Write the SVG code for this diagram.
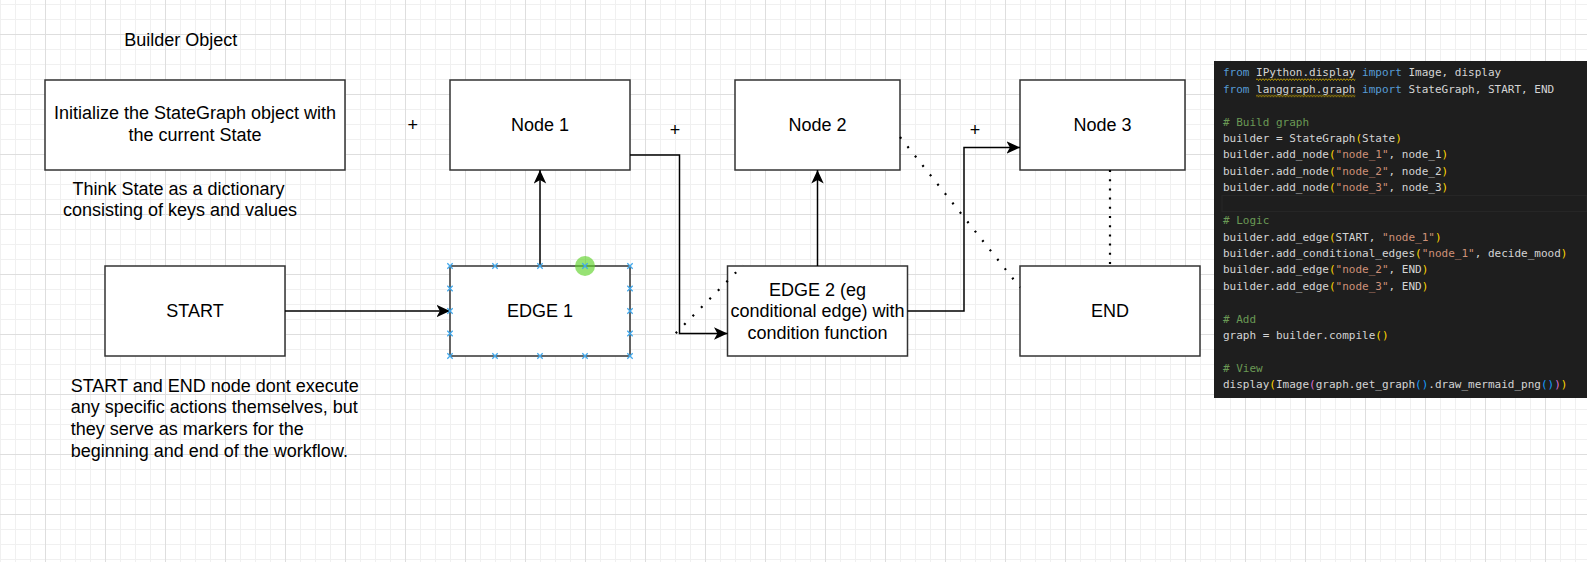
<svg xmlns="http://www.w3.org/2000/svg" width="1587" height="562" viewBox="0 0 1587 562">
<style>
.box{fill:#ffffff;stroke:#333333;stroke-width:1.5}
.lbl{font-family:"Liberation Sans",Arial,Helvetica,sans-serif;font-size:18px;fill:#000000}
.mid{text-anchor:middle}
.conn{fill:none;stroke:#000000;stroke-width:1.5}
.dot{fill:none;stroke:#000000;stroke-width:2.2}
.code{font-family:"DejaVu Sans Mono","Liberation Mono",monospace;font-size:11px;fill:#d4d4d4}
.k{fill:#569cd6}.c{fill:#6a9955}.s{fill:#ce9178}.b1{fill:#ffd700}.b2{fill:#da70d6}.b3{fill:#179fff}
.cp{fill:none;stroke:#41a8ec;stroke-width:1.3}
</style>
<defs>
<pattern id="minor" width="15" height="15" patternUnits="userSpaceOnUse" x="0" y="4">
<path d="M0 0.5H15M0.5 0V15" fill="none" stroke="#f0f0f0" stroke-width="1"/>
</pattern>
<pattern id="major" width="60" height="60" patternUnits="userSpaceOnUse" x="45" y="34">
<path d="M0 0.5H60M0.5 0V60" fill="none" stroke="#dedede" stroke-width="1"/>
</pattern>
<pattern id="squig" width="3" height="3" patternUnits="userSpaceOnUse" x="0" y="78">
<path d="M0 0.5L1.5 2.5L3 0.5" fill="none" stroke="#cca700" stroke-width="0.9"/>
</pattern>
<pattern id="squig2" width="3" height="3" patternUnits="userSpaceOnUse" x="0" y="94.4">
<path d="M0 0.5L1.5 2.5L3 0.5" fill="none" stroke="#cca700" stroke-width="0.9"/>
</pattern>
<marker id="arr" markerUnits="userSpaceOnUse" markerWidth="14" markerHeight="13" refX="13.5" refY="6.2" orient="auto">
<path d="M0 0L13.5 6.2L0 12.4L3.4 6.2Z" fill="#000000"/>
</marker>
</defs>

<g id="grid">
<rect x="0" y="0" width="1587" height="562" fill="#ffffff"/>
<rect x="0" y="0" width="1587" height="562" fill="url(#minor)"/>
<rect x="0" y="0" width="1587" height="562" fill="url(#major)"/>
</g>

<g id="code">
<rect x="1214" y="61" width="373" height="337" fill="#1e1e1e"/>
<rect x="1222" y="195.5" width="365" height="16" fill="none" stroke="#262626" stroke-width="1.2"/>
<rect x="1256" y="78" width="99.3" height="3" fill="url(#squig)"/>
<rect x="1256" y="94.4" width="99.3" height="3" fill="url(#squig2)"/>
<text class="code" xml:space="preserve" x="1223" y="76.3"><tspan class="k">from</tspan> IPython.display <tspan class="k">import</tspan> Image, display</text>
<text class="code" xml:space="preserve" x="1223" y="92.7"><tspan class="k">from</tspan> langgraph.graph <tspan class="k">import</tspan> StateGraph, START, END</text>
<text class="code c" xml:space="preserve" x="1223" y="125.6"># Build graph</text>
<text class="code" xml:space="preserve" x="1223" y="142"><tspan>builder = StateGraph</tspan><tspan class="b1">(</tspan><tspan>State</tspan><tspan class="b1">)</tspan></text>
<text class="code" xml:space="preserve" x="1223" y="158.4"><tspan>builder.add_node</tspan><tspan class="b1">(</tspan><tspan class="s">"node_1"</tspan><tspan>, node_1</tspan><tspan class="b1">)</tspan></text>
<text class="code" xml:space="preserve" x="1223" y="174.8"><tspan>builder.add_node</tspan><tspan class="b1">(</tspan><tspan class="s">"node_2"</tspan><tspan>, node_2</tspan><tspan class="b1">)</tspan></text>
<text class="code" xml:space="preserve" x="1223" y="191.2"><tspan>builder.add_node</tspan><tspan class="b1">(</tspan><tspan class="s">"node_3"</tspan><tspan>, node_3</tspan><tspan class="b1">)</tspan></text>
<text class="code c" xml:space="preserve" x="1223" y="224.1"># Logic</text>
<text class="code" xml:space="preserve" x="1223" y="240.5"><tspan>builder.add_edge</tspan><tspan class="b1">(</tspan><tspan>START, </tspan><tspan class="s">"node_1"</tspan><tspan class="b1">)</tspan></text>
<text class="code" xml:space="preserve" x="1223" y="256.9"><tspan>builder.add_conditional_edges</tspan><tspan class="b1">(</tspan><tspan class="s">"node_1"</tspan><tspan>, decide_mood</tspan><tspan class="b1">)</tspan></text>
<text class="code" xml:space="preserve" x="1223" y="273.4"><tspan>builder.add_edge</tspan><tspan class="b1">(</tspan><tspan class="s">"node_2"</tspan><tspan>, END</tspan><tspan class="b1">)</tspan></text>
<text class="code" xml:space="preserve" x="1223" y="289.8"><tspan>builder.add_edge</tspan><tspan class="b1">(</tspan><tspan class="s">"node_3"</tspan><tspan>, END</tspan><tspan class="b1">)</tspan></text>
<text class="code c" xml:space="preserve" x="1223" y="322.6"># Add</text>
<text class="code" xml:space="preserve" x="1223" y="339"><tspan>graph = builder.compile</tspan><tspan class="b1">()</tspan></text>
<text class="code c" xml:space="preserve" x="1223" y="371.9"># View</text>
<text class="code" xml:space="preserve" x="1223" y="388.3"><tspan>display</tspan><tspan class="b1">(</tspan><tspan>Image</tspan><tspan class="b2">(</tspan><tspan>graph.get_graph</tspan><tspan class="b3">()</tspan><tspan>.draw_mermaid_png</tspan><tspan class="b3">()</tspan><tspan class="b2">)</tspan><tspan class="b1">)</tspan></text>
</g>

<g id="annotations">
<text class="lbl mid" x="180.8" y="45.7">Builder Object</text>
<text class="lbl mid" x="178.5" y="195">Think State as a dictionary</text>
<text class="lbl mid" x="180" y="216.3">consisting of keys and values</text>
<text class="lbl" x="70.7" y="391.7">START and END node dont execute</text>
<text class="lbl" x="70.7" y="413.3">any specific actions themselves, but</text>
<text class="lbl" x="70.7" y="435">they serve as markers for the</text>
<text class="lbl" x="70.7" y="456.7">beginning and end of the workflow.</text>
<text class="lbl mid" x="412.7" y="131">+</text>
<text class="lbl mid" x="675" y="136.3">+</text>
<text class="lbl mid" x="975" y="136.3">+</text>
</g>

<g id="node-init">
<rect class="box" x="45" y="80" width="300" height="90"/>
<text class="lbl mid" x="195" y="119.4">Initialize the StateGraph object with</text>
<text class="lbl mid" x="195" y="141">the current State</text>
</g>
<g id="node-1">
<rect class="box" x="450" y="80" width="180" height="90"/>
<text class="lbl mid" x="540" y="131">Node 1</text>
</g>
<g id="node-2">
<rect class="box" x="735" y="80" width="165" height="90"/>
<text class="lbl mid" x="817.5" y="131">Node 2</text>
</g>
<g id="node-3">
<rect class="box" x="1020" y="80" width="165" height="90"/>
<text class="lbl mid" x="1102.5" y="131">Node 3</text>
</g>
<g id="node-start">
<rect class="box" x="105" y="266" width="180" height="90"/>
<text class="lbl mid" x="195" y="317">START</text>
</g>
<g id="node-edge1">
<rect class="box" x="450" y="266" width="180" height="90"/>
<text class="lbl mid" x="540" y="317">EDGE 1</text>
</g>
<g id="node-edge2">
<rect class="box" x="727.5" y="266" width="180" height="90"/>
<text class="lbl mid" x="817.5" y="295.5">EDGE 2 (eg</text>
<text class="lbl mid" x="817.5" y="317">conditional edge) with</text>
<text class="lbl mid" x="817.5" y="338.5">condition function</text>
</g>
<g id="node-end">
<rect class="box" x="1020" y="266" width="180" height="90"/>
<text class="lbl mid" x="1110" y="317">END</text>
</g>

<g id="connectors">
<path class="conn" d="M285 311H450" marker-end="url(#arr)"/>
<path class="conn" d="M540 266V170" marker-end="url(#arr)"/>
<path class="conn" d="M630 155H679.5V333.5H727.5" marker-end="url(#arr)"/>
<path class="conn" d="M817.5 266V170" marker-end="url(#arr)"/>
<path class="conn" d="M907.5 311H964V147.5H1020" marker-end="url(#arr)"/>
<path class="dot" d="M675.7 333.3L743.3 265" stroke-dasharray="2 10"/>
<path class="dot" d="M900 137L1020 287.5" stroke-dasharray="2 10"/>
<path class="dot" d="M1110 170V266" stroke-dasharray="2 7.2"/>
</g>

<g id="selection">
<circle cx="585" cy="266" r="10" fill="#5fd32a" fill-opacity="0.65"/>
<path class="cp" d="M447.3 263.3l5.4 5.4m0-5.4l-5.4 5.4M492.3 263.3l5.4 5.4m0-5.4l-5.4 5.4M537.3 263.3l5.4 5.4m0-5.4l-5.4 5.4M582.3 263.3l5.4 5.4m0-5.4l-5.4 5.4M627.3 263.3l5.4 5.4m0-5.4l-5.4 5.4M447.3 353.3l5.4 5.4m0-5.4l-5.4 5.4M492.3 353.3l5.4 5.4m0-5.4l-5.4 5.4M537.3 353.3l5.4 5.4m0-5.4l-5.4 5.4M582.3 353.3l5.4 5.4m0-5.4l-5.4 5.4M627.3 353.3l5.4 5.4m0-5.4l-5.4 5.4M447.3 285.8l5.4 5.4m0-5.4l-5.4 5.4M447.3 308.3l5.4 5.4m0-5.4l-5.4 5.4M447.3 330.8l5.4 5.4m0-5.4l-5.4 5.4M627.3 285.8l5.4 5.4m0-5.4l-5.4 5.4M627.3 308.3l5.4 5.4m0-5.4l-5.4 5.4M627.3 330.8l5.4 5.4m0-5.4l-5.4 5.4"/>
</g>
</svg>
